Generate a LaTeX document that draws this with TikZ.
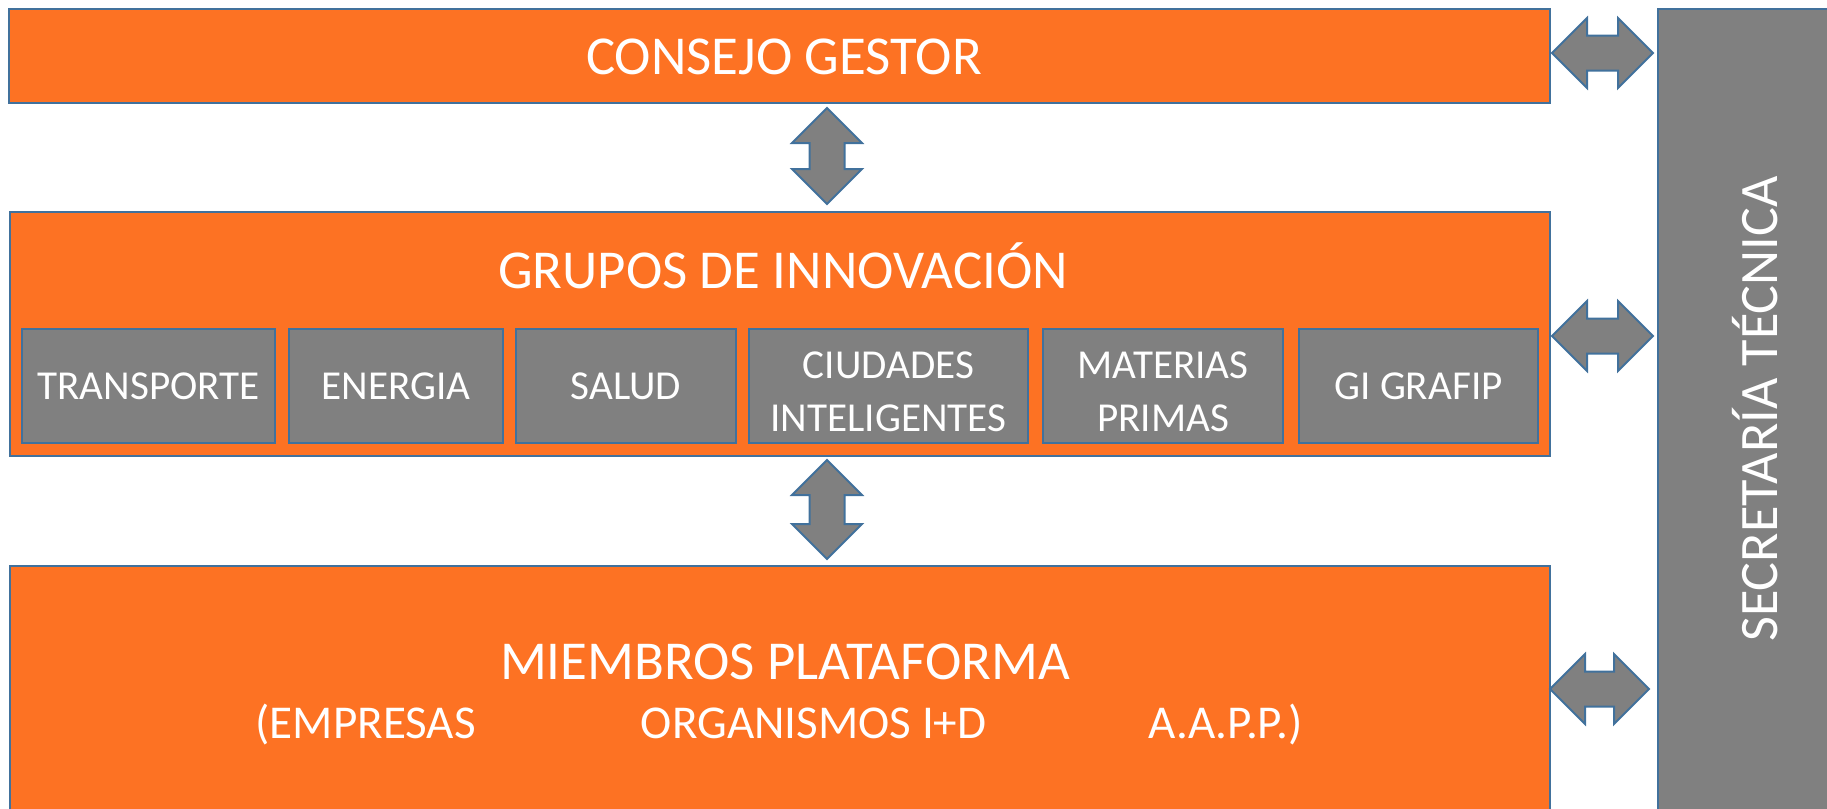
\documentclass[tikz,border=0pt]{standalone}
\usepackage{fontspec}
\setmainfont{Carlito}
\usepackage{tikz}
\usetikzlibrary{positioning,fit}
\definecolor{naranja}{RGB}{253,114,35}
\definecolor{gris}{RGB}{128,128,128}
\definecolor{borde}{RGB}{65,113,156}

\begin{document}
\begin{tikzpicture}[
x=0.01cm, y=-0.01cm,
font=\normalfont,
bigbox/.style={fill=naranja,draw=borde,line width=0.57pt,inner sep=0pt},
gibox/.style={fill=gris,draw=borde,line width=0.57pt,inner sep=0pt},
gitext/.style={text=white,inner sep=0pt,align=center,font=\fontsize{11.7}{15}\selectfont},
titulo/.style={text=white,inner sep=0pt,font=\fontsize{15.6}{18}\selectfont},
flecha/.style={fill=gris,draw=borde,line width=0.57pt}]
    % Page frame
    \useasboundingbox (0,0) rectangle (1827,808);
    \clip (0,0) rectangle (1827,808);

    % Big boxes
    \node[bigbox, fit={(9,9) (1550,103)}] (consejo) {};
    \node[bigbox, fit={(10,212) (1550,456)}] (grupos) {};
    \node[bigbox, fit={(10,566) (1550,840)}] (miembros) {};
    \node[bigbox, fill=gris, fit={(1658,9) (1860,840)}] (secretaria) {};

    % Titles
    \node[titulo] (tconsejo) at (784,57) {CONSEJO GESTOR};
    \node[titulo] (tgrupos) at (783,266) {GRUPOS DE INNOVACIÓN};
    \node[titulo] (tmiembros) at (785,662) {MIEMBROS PLATAFORMA};
    \node[titulo, font=\fontsize{13.4}{16}\selectfont] (tsocios) at (779,725)
        {(EMPRESAS\hspace{1.65cm}ORGANISMOS I+D\hspace{1.62cm}A.A.P.P.)};
    \node[titulo, rotate=90, font=\fontsize{15.4}{18}\selectfont] (tsecretaria) at (1755,409) {SECRETARÍA TÉCNICA};

    % Innovation groups
    \node[gibox, fit={(22,329) (275,443)}] (transporte) {};
    \node[gibox, fit={(289,329) (503,443)}] (energia) {};
    \node[gibox, fit={(516,329) (736,443)}] (salud) {};
    \node[gibox, fit={(749,329) (1028,443)}] (ciudades) {};
    \node[gibox, fit={(1043,329) (1283,443)}] (materias) {};
    \node[gibox, fit={(1299,329) (1538,443)}] (grafip) {};
    \node[gitext] at (transporte.center) {TRANSPORTE};
    \node[gitext] at (energia.center) {ENERGIA};
    \node[gitext] at (salud.center) {SALUD};
    \node[gitext] at ([yshift=-0.06cm]ciudades.center) {CIUDADES\\INTELIGENTES};
    \node[gitext] at ([yshift=-0.06cm]materias.center) {MATERIAS\\PRIMAS};
    \node[gitext] at (grafip.center) {GI GRAFIP};

    % Block arrows to the secretariat
    \foreach \x/\y/\s in {1552/53/31, 1552/336/31, 1550/689/29}
        \draw[flecha] (\x,\y) -- ++(35,-35) -- ++(0,17.5) -- ++(\s,0) -- ++(0,-17.5)
            -- ++(35,35) -- ++(-35,35) -- ++(0,-17.5) -- ++(-\s,0) -- ++(0,17.5) -- cycle;

    % Block arrows between levels
    \foreach \y/\s in {108/26, 460/29}
        \draw[flecha] (827,\y) -- ++(35,35) -- ++(-17.5,0) -- ++(0,\s) -- ++(17.5,0)
            -- ++(-35,35) -- ++(-35,-35) -- ++(17.5,0) -- ++(0,-\s) -- ++(-17.5,0) -- cycle;
\end{tikzpicture}
\end{document}
